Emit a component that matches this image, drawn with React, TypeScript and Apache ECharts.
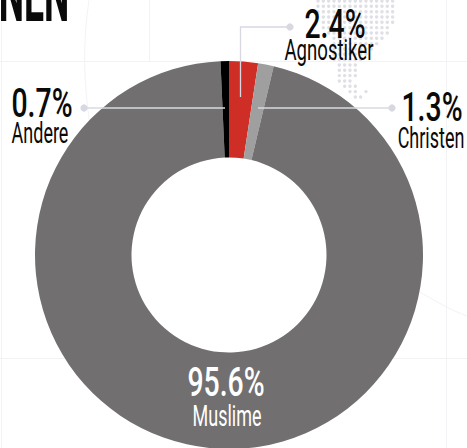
import React, { useEffect, useRef } from "react";
import * as echarts from "echarts";

// Religious affiliation shares, in percent, clockwise from twelve o'clock
const categories = ["Agnostiker", "Christen", "Muslime", "Andere"];
const shares = [2.4, 1.3, 95.6, 0.7];
const sliceColors = ["#cf2e27", "#a09fa0", "#716f70", "#000000"];
const headingFragment = "NEN";

// Decorative dotted landmass: [row, first column, last column]
const landRows = [
  [0, 0, 14], [1, 0, 14], [2, 0, 14], [3, 1, 14], [4, 1, 14], [5, 1, 13],
  [6, 2, 13], [7, 3, 12], [8, 3, 11], [9, 3, 10], [10, 3, 9], [11, 3, 8],
  [12, 4, 7], [13, 4, 7], [14, 4, 7], [15, 4, 6], [16, 5, 7], [17, 6, 7],
];
const landOutliers = [[17, 9], [18, 7], [18, 8]];

const FONT = "Roboto";
const LINE = "#d8d8e2";
const GRID = "#f3f3f6";

function label(x: number, y: number, text: string, size: number, weight: number, scaleX: number, fill = "#0a0a0a") {
  return {
    type: "text",
    x,
    y,
    scaleX,
    z: 20,
    silent: true,
    style: {
      text,
      fill,
      font: `${weight} ${size}px ${FONT}`,
      textAlign: "center",
      textVerticalAlign: "middle",
    },
  };
}

function dot(x: number, y: number, r: number, fill: string, z: number) {
  return { type: "circle", shape: { cx: x, cy: y, r }, style: { fill }, z, silent: true };
}

function gridLine(x1: number, y1: number, x2: number, y2: number) {
  return { type: "line", shape: { x1, y1, x2, y2 }, style: { stroke: GRID, lineWidth: 1 }, z: 0, silent: true };
}

function leader(points: number[][], end: number[]) {
  return [
    { type: "polyline", shape: { points }, style: { stroke: LINE, lineWidth: 1.3, fill: "none" }, z: 15, silent: true },
    dot(end[0], end[1], 3.6, LINE, 15),
  ];
}

export default function App() {
  const ref = useRef<HTMLDivElement>(null);

  useEffect(() => {
    const chart = echarts.init(ref.current!, null, { renderer: "svg" });

    const landDots: any[] = [];
    const colX = (c: number) => 318 + c * 5.33;
    const rowY = (r: number) => 1 + r * 5.33;
    landRows.forEach(([r, a, b]) => {
      for (let c = a; c <= b; c++) landDots.push(dot(colX(c), rowY(r), 1.7, "#dfdfe6", 1));
    });
    landOutliers.forEach(([r, c]) => landDots.push(dot(colX(c), rowY(r), 1.7, "#dfdfe6", 1)));

    const pct = (i: number) => `${shares[i].toFixed(1)}%`;

    chart.setOption({
      animation: false,
      backgroundColor: "#ffffff",
      graphic: {
        elements: [
          gridLine(0, 61.5, 467, 61.5),
          gridLine(0, 358.5, 467, 358.5),
          gridLine(1.5, 0, 1.5, 448),
          gridLine(149.5, 0, 149.5, 61),
          gridLine(446.5, 0, 446.5, 448),
          {
            type: "bezierCurve",
            shape: { x1: 89, y1: 0, cpx1: 83, cpy1: 40, cpx2: 83, cpy2: 80, x2: 90, y2: 125 },
            style: { stroke: GRID, lineWidth: 1, fill: "none" },
            z: 0,
            silent: true,
          },
          {
            type: "bezierCurve",
            shape: { x1: 418, y1: 291, cpx1: 434, cpy1: 300, cpx2: 450, cpy2: 310, x2: 467, y2: 316 },
            style: { stroke: GRID, lineWidth: 1, fill: "none" },
            z: 0,
            silent: true,
          },
          ...landDots,
          ...leader([[290, 27], [240.5, 27], [240.5, 97]], [290, 27]),
          ...leader([[84, 108], [225, 108]], [84, 108]),
          ...leader([[392, 108], [258, 108]], [392, 108]),
          label(34, -5, headingFragment, 76, 700, 0.47),
          label(335, 24, pct(0), 40, 500, 0.71),
          label(329, 50, categories[0], 30, 400, 0.62),
          label(432, 107, pct(1), 40, 500, 0.71),
          label(431, 138, categories[1], 30, 400, 0.6),
          label(42, 103, pct(3), 40, 500, 0.71),
          label(40, 133, categories[3], 30, 400, 0.6),
          label(226, 382, pct(2), 40, 500, 0.71, "#ffffff"),
          label(227, 416, categories[2], 30, 400, 0.6, "#ffffff"),
        ],
      },
      series: [
        {
          type: "pie",
          z: 5,
          center: [229, 255],
          radius: [97.5, 194],
          startAngle: 90,
          clockwise: true,
          label: { show: false },
          labelLine: { show: false },
          emphasis: { disabled: true },
          itemStyle: { borderWidth: 0 },
          data: categories.map((name, i) => ({
            name,
            value: shares[i],
            itemStyle: { color: sliceColors[i] },
          })),
        },
      ],
    });

    return () => chart.dispose();
  }, []);

  return <div ref={ref} style={{ position: "fixed", left: 0, top: 0, width: 467, height: 448 }} />;
}
